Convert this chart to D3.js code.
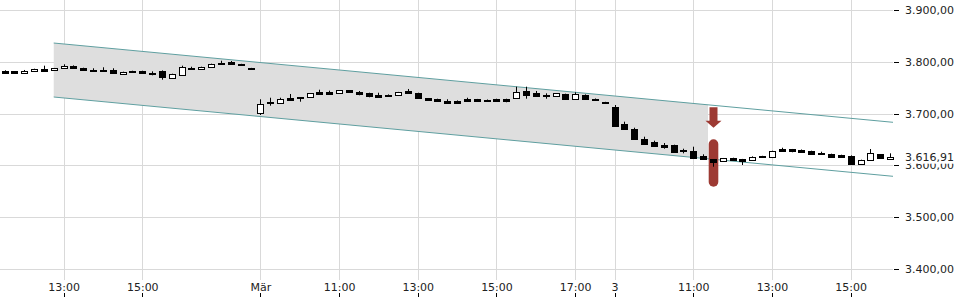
<!DOCTYPE html>
<html lang="de">
<head>
<meta charset="UTF-8">
<title>Intraday Chart</title>
<style>
  body { margin: 0; background: #fff; }
  svg { display: block; font-family: "DejaVu Sans", sans-serif; }
  .grid line { stroke: #d9d9d9; stroke-width: 1; }
  .lbl { font-size: 11px; fill: #222; }
</style>
</head>
<body>
<svg width="960" height="300"></svg>
<script src="https://d3js.org/d3.v7.min.js"></script>
<script>
// trading sessions shown (date, first bar, last bar), 15 minute bars
const sessions = [
  { date: "2020-02-28", from: "11:30", to: "17:45" },
  { date: "2020-03-02", from: "09:00", to: "17:45" },
  { date: "2020-03-03", from: "09:00", to: "16:00" }
];

const open = [
  3782.5, 3781.9, 3778.1, 3781.9, 3787.0, 3783.9, 3788.3, 3792.8, 3788.3, 3785.0,
  3785.0, 3784.5, 3776.2, 3782.5, 3782.5, 3778.7, 3783.1, 3768.4, 3776.2, 3788.3,
  3785.8, 3790.3, 3798.6, 3799.3, 3796.1, 3788.3,
  3702.7, 3722.1, 3720.1, 3730.9, 3731.7, 3731.7, 3742.5, 3742.0, 3739.4, 3745.2,
  3741.4, 3740.0, 3737.1, 3736.7, 3735.6, 3743.9, 3740.0, 3729.8, 3728.4, 3725.1,
  3725.1, 3728.4, 3728.0, 3727.1, 3728.4, 3728.4, 3729.8, 3744.3, 3739.1, 3735.6,
  3734.2, 3738.1, 3728.4, 3736.7, 3729.0, 3722.6,
  3713.5, 3680.1, 3670.5, 3651.1, 3644.8, 3639.6, 3639.6, 3629.3, 3628.5, 3617.7,
  3611.9, 3608.1, 3613.5, 3611.9, 3610.6, 3618.3, 3615.8, 3631.3, 3631.3, 3629.9,
  3628.0, 3624.7, 3622.2, 3620.2, 3618.9, 3602.9, 3610.6, 3621.6, 3613.9
];
const high = [
  3783.9, 3782.5, 3784.5, 3787.0, 3792.8, 3788.4, 3795.5, 3793.4, 3788.9, 3787.8,
  3789.7, 3787.8, 3781.2, 3783.1, 3783.1, 3781.9, 3783.7, 3777.3, 3792.8, 3790.8,
  3790.9, 3796.7, 3802.4, 3801.8, 3796.4, 3788.6,
  3727.9, 3730.9, 3730.9, 3738.1, 3732.0, 3740.0, 3746.4, 3744.5, 3745.8, 3745.8,
  3743.9, 3740.6, 3740.6, 3737.3, 3742.2, 3747.8, 3740.6, 3730.4, 3729.0, 3727.9,
  3725.7, 3730.9, 3728.6, 3727.5, 3729.0, 3729.0, 3752.2, 3752.2, 3743.9, 3739.4,
  3740.0, 3738.7, 3741.4, 3737.3, 3729.4, 3723.0,
  3716.8, 3684.6, 3673.0, 3655.6, 3647.9, 3643.4, 3640.2, 3632.4, 3636.3, 3621.6,
  3612.5, 3614.5, 3615.0, 3612.7, 3617.6, 3618.7, 3628.6, 3634.3, 3631.9, 3630.9,
  3628.6, 3626.6, 3622.8, 3620.8, 3619.5, 3611.2, 3631.8, 3622.2, 3623.5
];
const low = [
  3778.1, 3777.5, 3777.6, 3781.3, 3783.3, 3783.3, 3787.7, 3787.7, 3783.3, 3782.5,
  3783.1, 3777.5, 3775.6, 3779.4, 3777.5, 3774.2, 3765.7, 3767.8, 3775.6, 3785.2,
  3785.2, 3789.7, 3794.7, 3794.9, 3794.4, 3786.7,
  3697.5, 3715.5, 3719.5, 3727.3, 3723.2, 3731.1, 3738.1, 3737.5, 3738.8, 3740.4,
  3735.6, 3731.7, 3731.7, 3733.3, 3735.0, 3738.5, 3729.2, 3724.6, 3723.0, 3720.1,
  3721.1, 3723.2, 3724.5, 3725.5, 3724.5, 3722.1, 3729.2, 3729.0, 3733.6, 3729.0,
  3733.6, 3727.8, 3727.8, 3727.8, 3726.7, 3720.9,
  3676.2, 3669.3, 3650.0, 3640.3, 3636.5, 3632.4, 3626.0, 3623.5, 3615.2, 3611.9,
  3597.6, 3607.5, 3609.2, 3600.9, 3610.0, 3616.6, 3615.2, 3627.4, 3625.5, 3626.0,
  3621.0, 3621.6, 3615.2, 3615.2, 3603.6, 3602.3, 3610.0, 3613.3, 3613.3
];
const close = [
  3778.7, 3778.1, 3782.5, 3786.4, 3783.9, 3787.8, 3792.8, 3788.3, 3783.9, 3783.9,
  3783.9, 3778.1, 3780.6, 3780.0, 3778.1, 3777.3, 3771.5, 3776.7, 3790.8, 3785.8,
  3790.3, 3796.1, 3796.6, 3795.5, 3794.7, 3787.0,
  3719.3, 3719.3, 3728.4, 3727.9, 3730.4, 3739.4, 3738.7, 3738.7, 3745.2, 3741.0,
  3738.1, 3734.8, 3734.2, 3733.9, 3741.6, 3739.1, 3729.8, 3726.5, 3723.6, 3722.1,
  3721.7, 3725.5, 3725.1, 3725.9, 3725.1, 3725.1, 3741.4, 3736.2, 3734.2, 3732.9,
  3739.4, 3728.4, 3737.5, 3728.4, 3727.1, 3721.3,
  3676.8, 3669.9, 3650.6, 3640.9, 3637.1, 3635.1, 3626.6, 3626.6, 3615.8, 3612.5,
  3605.4, 3613.9, 3610.6, 3608.6, 3617.0, 3617.0, 3628.0, 3628.0, 3627.4, 3627.0,
  3621.6, 3622.2, 3615.8, 3615.8, 3604.2, 3610.6, 3623.5, 3613.9, 3616.91
];

// price levels on the right axis
const priceTicks = [3400, 3500, 3600, 3700, 3800, 3900];

// time axis labels
const timeTicks = [
  { date: "2020-02-28", time: "13:00", label: "13:00" },
  { date: "2020-02-28", time: "15:00", label: "15:00" },
  { date: "2020-03-02", time: "09:00", label: "Mär" },
  { date: "2020-03-02", time: "11:00", label: "11:00" },
  { date: "2020-03-02", time: "13:00", label: "13:00" },
  { date: "2020-03-02", time: "15:00", label: "15:00" },
  { date: "2020-03-02", time: "17:00", label: "17:00" },
  { date: "2020-03-03", time: "09:00", label: "3" },
  { date: "2020-03-03", time: "11:00", label: "11:00" },
  { date: "2020-03-03", time: "13:00", label: "13:00" },
  { date: "2020-03-03", time: "15:00", label: "15:00" }
];

// trend channel: start bar, upper and lower price there, slope per bar, shaded until bar
const channelStart = { date: "2020-02-28", time: "12:45" };
const channelUpper = 3836.6;
const channelLower = 3732.3;
const channelSlope = -1.796;
const channelShadeEnd = { date: "2020-03-03", time: "11:15" };

// signal on the bar 11:30 of 3 March
const signalBar = { date: "2020-03-03", time: "11:30" };
const signalArrow = [3712.4, 3673.0];
const signalZone = [3650.6, 3559.0];

// ---- build bar list with its slot index
const toMin = s => { const [h, m] = s.split(":").map(Number); return h * 60 + m; };
const bars = [];
sessions.forEach(s => {
  for (let t = toMin(s.from); t <= toMin(s.to); t += 15) {
    bars.push({ date: s.date, min: t });
  }
});
bars.forEach((b, i) => {
  b.i = i; b.o = open[i]; b.h = high[i]; b.l = low[i]; b.c = close[i];
});
const slotOf = (date, time) => bars.findIndex(b => b.date === date && b.min === toMin(time));

const plotRight = 893, plotBottom = 280;

const x = d3.scaleLinear().domain([-0.46, 90.3]).range([0, plotRight]);
const y = d3.scaleLinear().domain([3400, 3900]).range([269, 10.2]);

const de = d3.formatLocale({ decimal: ",", thousands: ".", grouping: [3], currency: ["", " €"] });
const fmt = de.format(",.2f");

const svg = d3.select("svg");

// grid
const grid = svg.append("g").attr("class", "grid");
grid.selectAll(".h").data(priceTicks).enter().append("line")
  .attr("x1", 0).attr("x2", plotRight)
  .attr("y1", d => Math.round(y(d)) + 0.5).attr("y2", d => Math.round(y(d)) + 0.5);
grid.selectAll(".v").data(timeTicks).enter().append("line")
  .attr("x1", d => Math.round(x(slotOf(d.date, d.time))) + 0.5)
  .attr("x2", d => Math.round(x(slotOf(d.date, d.time))) + 0.5)
  .attr("y1", 0).attr("y2", plotBottom);

// channel
const cs = slotOf(channelStart.date, channelStart.time);
const ce = slotOf(channelShadeEnd.date, channelShadeEnd.time) + 0.5;
const xEnd = x.domain()[1];
const up = i => channelUpper + channelSlope * (i - cs);
const lo = i => channelLower + channelSlope * (i - cs);
svg.append("path")
  .attr("d", `M${x(cs)},${y(up(cs))}L${x(ce)},${y(up(ce))}L${x(ce)},${y(lo(ce))}L${x(cs)},${y(lo(cs))}Z`)
  .attr("fill", "#dedede");
[up, lo].forEach(fn => {
  svg.append("line")
    .attr("x1", x(cs)).attr("y1", y(fn(cs)))
    .attr("x2", x(xEnd)).attr("y2", y(fn(xEnd)))
    .attr("stroke", "#5f9fa0").attr("stroke-width", 1);
});

// signal markers (under the candles)
const sx = Math.round(x(slotOf(signalBar.date, signalBar.time))) + 0.5;
const red = "#9d3a33";
const tipY = y(signalArrow[1]);
svg.append("path")
  .attr("d", `M${sx - 4},${y(signalArrow[0])}H${sx + 4}V${tipY - 7}H${sx + 8}L${sx},${tipY}L${sx - 8},${tipY - 7}H${sx - 4}Z`)
  .attr("fill", red);
svg.append("rect")
  .attr("x", sx - 4.8).attr("width", 9.6)
  .attr("y", y(signalZone[0])).attr("height", y(signalZone[1]) - y(signalZone[0]))
  .attr("rx", 4.8).attr("fill", red);

// candles
const bw = 7;
const cg = svg.append("g").selectAll("g").data(bars).enter().append("g");
cg.append("line")
  .attr("x1", d => Math.round(x(d.i)) + 0.5).attr("x2", d => Math.round(x(d.i)) + 0.5)
  .attr("y1", d => y(d.h)).attr("y2", d => y(d.l))
  .attr("stroke", "#000").attr("stroke-width", 1);
cg.append("rect")
  .attr("x", d => Math.round(x(d.i)) - 3 + 0.5)
  .attr("width", bw - 1)
  .attr("y", d => Math.round(y(Math.max(d.o, d.c))) + 0.5)
  .attr("height", d => Math.max(1, Math.round(Math.abs(y(d.o) - y(d.c)))))
  .attr("fill", d => d.c >= d.o ? "#fff" : "#000")
  .attr("stroke", "#000").attr("stroke-width", 1);

// right axis
const ax = svg.append("g");
ax.selectAll("line").data(priceTicks).enter().append("line")
  .attr("x1", 894).attr("x2", 899)
  .attr("y1", d => Math.round(y(d)) + 0.5).attr("y2", d => Math.round(y(d)) + 0.5)
  .attr("stroke", "#000");
ax.selectAll("text").data(priceTicks).enter().append("text")
  .attr("class", "lbl").attr("x", 905).attr("y", d => y(d)).attr("dy", "0.35em")
  .text(d => fmt(d));

// last price
const last = close[close.length - 1];
svg.append("rect").attr("x", 901).attr("width", 59)
  .attr("y", y(last) - 7).attr("height", 14).attr("fill", "#fff");
svg.append("text").attr("class", "lbl").attr("x", 905).attr("y", y(last)).attr("dy", "0.35em")
  .text(fmt(last));

// time axis
const tx = svg.append("g");
tx.selectAll("text").data(timeTicks).enter().append("text")
  .attr("class", "lbl").attr("text-anchor", "middle")
  .attr("x", d => x(slotOf(d.date, d.time)) + 0.5).attr("y", 291)
  .text(d => d.label);
tx.selectAll("line").data(timeTicks).enter().append("line")
  .attr("x1", d => Math.round(x(slotOf(d.date, d.time))) + 0.5)
  .attr("x2", d => Math.round(x(slotOf(d.date, d.time))) + 0.5)
  .attr("y1", 293).attr("y2", 297).attr("stroke", "#000");
</script>
</body>
</html>
